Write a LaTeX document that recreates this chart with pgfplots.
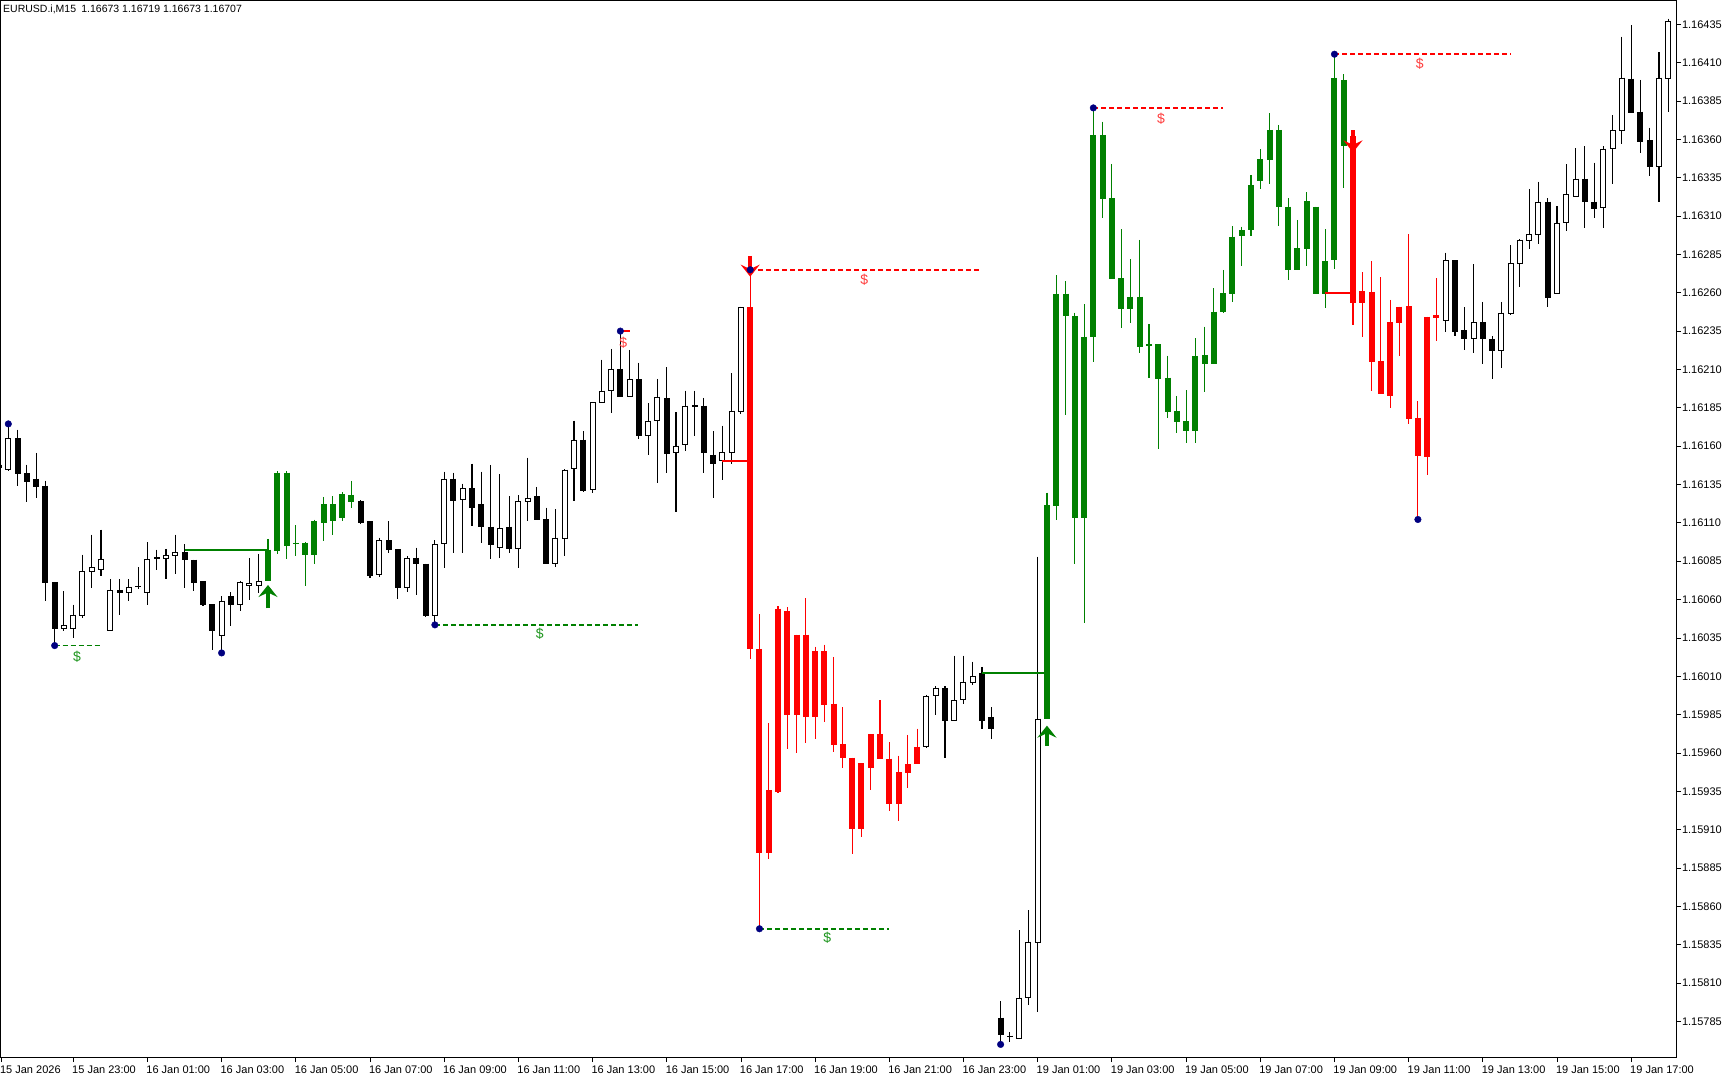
\documentclass[border=0pt]{standalone}
\usepackage{pgfplots}
\usepackage{pgfplotstable}
\pgfplotsset{compat=1.18}
\usetikzlibrary{arrows.meta}
\usepackage{fontspec}
\setmainfont{Liberation Sans}
\definecolor{mtgreen}{RGB}{0,128,0}
\definecolor{mtred}{RGB}{255,0,0}
\definecolor{mtnavy}{RGB}{0,0,128}
\definecolor{lblgreen}{RGB}{30,150,30}
\definecolor{lblred}{RGB}{255,60,60}
% prices in points: value = (price - 1.15) * 100000
% columns: x (bar index), open, high, low, close
\pgfplotstableread{
x o h l c
-1 1148 1149 1145 1146
1 1165.3 1170.8 1133.8 1141.9
2 1142.5 1148 1123.4 1136.7
3 1138.8 1155.6 1126.2 1133.4
4 1134.3 1137.5 1058.9 1070.8
5 1071.5 1071.5 1030 1040.8
12 1066.3 1073.4 1050.2 1064.1
19 1091 1096.2 1067.6 1086
20 1086 1086 1065.8 1070.8
21 1071.9 1071.9 1056 1056.7
22 1057.1 1057.1 1027.4 1039.3
24 1062.1 1064.7 1042.6 1056.7
38 1124.3 1124.7 1109 1110.2
39 1111.2 1111.2 1074.3 1075.4
41 1098.6 1111.2 1090.2 1092.1
42 1092.8 1092.8 1060.2 1067.4
44 1087.3 1093.9 1063 1083
45 1083.4 1083.4 1048.9 1049.3
48 1138.8 1142.8 1090.6 1124.3
50 1132.5 1148.6 1108 1120
51 1122.1 1143.4 1097.1 1107.3
52 1107.6 1147.8 1086.3 1095.6
54 1107.6 1127.5 1090.6 1092.8
57 1127.5 1133.4 1111.7 1111.7
58 1112.3 1119.9 1083 1083
62 1164.3 1169.7 1130 1130.6
66 1210.3 1235 1191.9 1191.9
68 1203.6 1214.5 1164.7 1166.9
71 1191.4 1211.4 1142.3 1154.9
75 1186.4 1191.4 1142.3 1155.4
76 1154.5 1169.7 1126.2 1148.4
101 1002.4 1003.6 956.9 981.1
105 1012.3 1016.1 975.9 981.1
106 983.5 989.9 969.4 975.3
107 787.4 798.2 770 776
108 775.8 777.8 771.5 775.4
156 1281.3 1281.3 1231.8 1234.4
157 1235.5 1250.7 1222.4 1229.6
159 1240.9 1254 1213.3 1229.6
160 1230 1231.8 1203.5 1222
166 1319.4 1321.6 1250.9 1256.8
170 1334.4 1355.6 1302.4 1319.4
171 1319.4 1344.8 1308.9 1314.8
175 1399.6 1434.3 1377.4 1377.4
176 1378 1398.7 1351.3 1358.5
177 1359.3 1367.6 1336.1 1342
}\tblack
\pgfplotstableread{
x o h l c
0 1144.7 1174 1144 1165.3
6 1040.6 1065.4 1039.8 1043.2
7 1040.8 1056.7 1035.0 1050.2
8 1049.1 1089.3 1048 1078.4
9 1078 1102.3 1067.6 1081.2
10 1079.5 1105.6 1075.6 1086.5
11 1039.3 1073.4 1039.3 1066
13 1064.1 1073.4 1058.9 1068.2
14 1068.2 1081.2 1067 1068.9
15 1064.3 1097.3 1056.7 1086.5
16 1086.7 1092.5 1079.5 1087.7
17 1086.7 1093 1073.4 1089.1
18 1088.6 1102.3 1076.7 1091
23 1036.1 1062.1 1025.5 1059.3
25 1056.7 1072.3 1052.8 1071.5
26 1068.6 1087.1 1060 1070.8
27 1068.6 1089.7 1064.3 1072.3
40 1076 1100.4 1074.7 1098.6
43 1067.4 1088.4 1065.2 1086.9
46 1049.3 1098.6 1043.5 1096
47 1096 1143.4 1080.8 1138.8
49 1124.7 1135.6 1090.6 1132.5
53 1093.4 1141.7 1086.9 1106.5
55 1092.8 1128 1080.8 1124.3
56 1123.9 1152.5 1111.2 1126.5
59 1083 1118.9 1081.3 1100.4
60 1099.5 1145.1 1088.6 1144.7
61 1145.1 1176.6 1124.1 1164.3
63 1131.7 1188.6 1129.3 1188.6
64 1188.2 1216.4 1188.2 1196.2
65 1195.8 1223.4 1181.4 1210.3
67 1191.9 1222.7 1191.9 1203.6
69 1166.9 1188 1154.3 1176.6
70 1176.2 1203.8 1136 1192.3
72 1155.6 1182.1 1117.3 1160.3
73 1160.8 1196.2 1157.1 1186.4
74 1185.8 1196.2 1166.9 1186.6
77 1150.1 1173.4 1138.2 1156
78 1155.6 1207.5 1148.4 1183.2
79 1182.1 1251 1181 1250.5
99 963.6 997.8 963 997.2
100 997.2 1003.6 984.9 1002.4
102 981.1 1023.4 981.1 994.3
103 994.8 1023.4 991.9 1006.5
104 1005.9 1019.6 1004.5 1010.3
109 773.7 844.5 773.7 800.5
110 800.5 857.5 795.6 837
111 836.3 1088 791.3 982.4
155 1241.6 1286.1 1234.4 1281.3
158 1229.6 1278.5 1220.5 1240.9
161 1222 1254 1210.7 1247
162 1246.4 1290.9 1245.3 1279.2
163 1278.5 1295.2 1264 1294.4
164 1293.7 1327.8 1288.7 1298.1
165 1297.6 1332.4 1291.5 1319.4
167 1259 1316.5 1259 1305.7
168 1305.7 1343.7 1300.2 1324.1
169 1322.4 1354.1 1322.4 1334.4
172 1315 1355.6 1302.4 1353.9
173 1353.5 1375.6 1331.1 1365.9
174 1365.4 1426.9 1356.7 1400.2
178 1342 1416.9 1319.1 1400.2
179 1399.6 1438.7 1377.8 1437.1
}\twhite
\pgfplotstableread{
x o h l c
28 1071.9 1099.5 1071.9 1092.5
29 1091.7 1143.5 1090 1142.8
30 1142.8 1143.5 1086.3 1095
31 1096 1108.4 1088.4 1097
32 1097.1 1097.5 1068.9 1088.9
33 1088.9 1112.1 1083.4 1111.2
34 1110.2 1126.9 1098.2 1122.1
35 1122.1 1127.5 1102 1111.2
36 1113 1130 1111.5 1128.6
37 1128.2 1137.3 1119.5 1123.6
112 982.4 1129.7 982.4 1121.6
113 1120.9 1271.5 1111.8 1259.5
114 1259.5 1267.6 1180.3 1244.8
115 1244.8 1247.1 1083.1 1113.4
116 1113.4 1252.6 1045 1231.4
117 1231.4 1380.5 1215.1 1362.9
118 1362.9 1371.6 1309 1320.9
119 1321.6 1344 1268.8 1268.8
120 1269.4 1301.4 1237.3 1249.2
121 1249.2 1281.8 1240.5 1257.5
122 1257.5 1294.4 1220.5 1224.9
123 1225.9 1239.4 1204.2 1226.4
124 1226.4 1226.4 1158 1203.6
125 1204.7 1219 1178.2 1182.5
126 1183.2 1192.7 1168.4 1176
127 1176.4 1196.6 1161.9 1169.9
128 1169.9 1230.3 1161.9 1218.8
129 1219.4 1237.9 1195.5 1213.6
130 1213.6 1262.9 1213.6 1247.7
131 1247.2 1274.9 1247 1259.6
132 1259.2 1303.5 1254.2 1296.6
133 1297 1303.1 1277.5 1300.9
134 1300.9 1336.8 1297 1330.3
135 1333.1 1353.5 1327.4 1347
136 1346.6 1377 1330.9 1366.1
137 1366.1 1369.4 1303.5 1315.7
138 1316.1 1321.6 1268.3 1274.9
139 1274.9 1307.5 1274.9 1289
140 1288.5 1325.5 1277.5 1319.8
141 1316.1 1316.1 1259.2 1259.2
142 1259.2 1301.4 1250.3 1280.7
143 1281.3 1415.5 1275.2 1400.2
144 1398.7 1402.4 1328.5 1355.7
}\tgreen
\pgfplotstableread{
x o h l c
80 1250.5 1275 1021.5 1027.5
81 1027.8 1050.3 845.4 895
82 895 979.6 890.7 935.9
83 934.4 1055.6 934 1054.1
84 1052.6 1054.9 962.7 984.6
85 984.6 1037.2 959.8 1037.2
86 1037.2 1060.8 966.5 983.5
87 983.5 1029.3 969.4 1026.4
88 1026.4 1030.7 980.2 991.3
89 992.2 1022.6 960.7 965.1
90 965.7 989.9 949.9 956.9
91 956.9 956.9 894.4 910.5
92 910.5 953.4 905.2 953.4
93 950.5 972.4 935.9 972.4
94 972.4 994.3 956.3 956.3
95 956.3 967.1 921.9 926.5
96 926.5 958.3 915.4 947.5
97 947 971.8 937.4 952.8
98 952.5 975.9 952.5 964.2
145 1362 1364.3 1238.7 1253.1
146 1253.1 1273.5 1231.4 1261.1
147 1260.5 1280.7 1196 1214.8
148 1215.5 1270.2 1193.8 1193.8
149 1192.7 1255.3 1185.1 1240.9
150 1240 1250.9 1218.8 1250.9
151 1251.3 1298.1 1174.2 1177.9
152 1178.6 1189.4 1112.2 1153.6
153 1153.1 1244.4 1141 1244.4
154 1243.8 1269.4 1228.5 1245.3
}\tred
\pgfplotstableread{
x y
0 1174.5
5 1030
23 1025.2
46 1043.5
66 1235
80 1275
81 845.4
107 770
117 1380.5
143 1415.5
152 1112.2
}\fractals
\pgfplotsset{
  wick/.style={quiver={u=0, v={\thisrow{l}-\thisrow{h}}}, mark=none, line width=1.1pt},
  body/.style={quiver={u=0, v={-max(abs(\thisrow{o}-\thisrow{c}),0.8)}}, mark=none, line width=6pt},
  inner/.style={quiver={u=0, v={-max(abs(\thisrow{o}-\thisrow{c})-1.3,0)}}, mark=none, line width=4pt},
  sig arrow/.style={line width=4pt, -{Stealth[length=12pt, width=19pt, inset=4.5pt]}},
}
\begin{document}
\begin{tikzpicture}
\fill[white] (0,0) rectangle (1730pt,1080pt);
\useasboundingbox (0,0) rectangle (1730pt,1080pt);
\begin{axis}[
  at={(0pt,23pt)}, anchor=south west,
  scale only axis, width=1676pt, height=1057pt,
  xmin=-0.895, xmax=179.83, ymin=761.8, ymax=1450.84,
  axis line style={black, line width=0.8pt},
  tick style={black, line width=0.8pt},
  tick align=outside, major tick length=5pt,
  xtick pos=left, ytick pos=right, yticklabel pos=right,
  xtick={7,15,23,31,39,47,55,63,71,79,87,95,103,111,119,127,135,143,151,159,167,175},
  xticklabels={15 Jan 23:00,16 Jan 01:00,16 Jan 03:00,16 Jan 05:00,16 Jan 07:00,16 Jan 09:00,16 Jan 11:00,16 Jan 13:00,16 Jan 15:00,16 Jan 17:00,16 Jan 19:00,16 Jan 21:00,16 Jan 23:00,19 Jan 01:00,19 Jan 03:00,19 Jan 05:00,19 Jan 07:00,19 Jan 09:00,19 Jan 11:00,19 Jan 13:00,19 Jan 15:00,19 Jan 17:00},
  extra x ticks={-0.78}, extra x tick labels={15 Jan 2026},
  ytick={785,810,835,860,885,910,935,960,985,1010,1035,1060,1085,1110,1135,1160,1185,1210,1235,1260,1285,1310,1335,1360,1385,1410,1435},
  yticklabels={1.15785,1.15810,1.15835,1.15860,1.15885,1.15910,1.15935,1.15960,1.15985,1.16010,1.16035,1.16060,1.16085,1.16110,1.16135,1.16160,1.16185,1.16210,1.16235,1.16260,1.16285,1.16310,1.16335,1.16360,1.16385,1.16410,1.16435},
  xticklabel style={anchor=north west, xshift=-4.5pt, font=\fontsize{11}{13}\selectfont},
  yticklabel style={anchor=west, xshift=-2.5pt, font=\fontsize{11}{13}\selectfont},
  clip=true,
]
% wicks
\addplot[wick, black] table[x=x, y=h] {\tblack};
\addplot[wick, black] table[x=x, y=h] {\twhite};
\addplot[wick, mtgreen] table[x=x, y=h] {\tgreen};
\addplot[wick, mtred] table[x=x, y=h] {\tred};
% bodies
\addplot[body, black] table[x=x, y expr={max(\thisrow{o},\thisrow{c})}] {\tblack};
\addplot[body, black] table[x=x, y expr={max(\thisrow{o},\thisrow{c})}] {\twhite};
\addplot[inner, white] table[x=x, y expr={max(\thisrow{o},\thisrow{c})-0.65}] {\twhite};
\addplot[body, mtgreen] table[x=x, y expr={max(\thisrow{o},\thisrow{c})}] {\tgreen};
\addplot[body, mtred] table[x=x, y expr={max(\thisrow{o},\thisrow{c})}] {\tred};
% signal levels
\addplot[mtgreen, line width=2pt] coordinates {(19,1092) (28,1092)};
\addplot[mtred, line width=2pt] coordinates {(77,1150.5) (80,1150.5)};
\addplot[mtgreen, line width=2pt] coordinates {(105,1012) (112,1012)};
\addplot[mtred, line width=2pt] coordinates {(142,1260) (145,1260)};
% target lines
\addplot[mtgreen, line width=1.6pt, dash pattern=on 5pt off 3pt] coordinates {(5,1030) (10.05,1030)};
\addplot[mtgreen, line width=1.6pt, dash pattern=on 5pt off 3pt] coordinates {(46,1043.5) (67.9,1043.5)};
\addplot[mtred, line width=1.6pt] coordinates {(66,1235) (67,1235)};
\addplot[mtred, line width=1.6pt, dash pattern=on 5pt off 3pt] coordinates {(80,1275) (105,1275)};
\addplot[mtgreen, line width=1.6pt, dash pattern=on 5pt off 3pt] coordinates {(81,845.4) (95,845.4)};
\addplot[mtred, line width=1.6pt, dash pattern=on 5pt off 3pt] coordinates {(117,1380.5) (131,1380.5)};
\addplot[mtred, line width=1.6pt, dash pattern=on 5pt off 3pt] coordinates {(143,1415.5) (162,1415.5)};
% arrows
\addplot[mtgreen, sig arrow] coordinates {(28,1054.3) (28,1069.5)};
\addplot[mtgreen, sig arrow] coordinates {(112,964.5) (112,977.8)};
\addplot[mtred, sig arrow] coordinates {(80,1284) (80,1270.5)};
\addplot[mtred, sig arrow] coordinates {(145,1366) (145,1351.5)};
% fractal dots
\addplot[only marks, mark=*, mark size=3.3pt, mark options={fill=mtnavy, draw=mtnavy}] table[x=x, y=y] {\fractals};
% labels
\node[text=lblgreen, font=\fontsize{14}{16}\selectfont] at (axis cs:7.4,1023) {\$};
\node[text=lblgreen, font=\fontsize{14}{16}\selectfont] at (axis cs:57.3,1037.8) {\$};
\node[text=lblred, font=\fontsize{14}{16}\selectfont] at (axis cs:66.3,1227.7) {\$};
\node[text=lblred, font=\fontsize{14}{16}\selectfont] at (axis cs:92.3,1268.6) {\$};
\node[text=lblgreen, font=\fontsize{14}{16}\selectfont] at (axis cs:88.3,839.6) {\$};
\node[text=lblred, font=\fontsize{14}{16}\selectfont] at (axis cs:124.3,1373.7) {\$};
\node[text=lblred, font=\fontsize{14}{16}\selectfont] at (axis cs:152.2,1409.3) {\$};
\node[anchor=west, inner sep=0pt, xshift=3pt, yshift=-9pt, font=\fontsize{10.5}{12}\selectfont] at (rel axis cs:0,1) {EURUSD.i,M15\enspace 1.16673 1.16719 1.16673 1.16707};
\end{axis}
\end{tikzpicture}
\end{document}
